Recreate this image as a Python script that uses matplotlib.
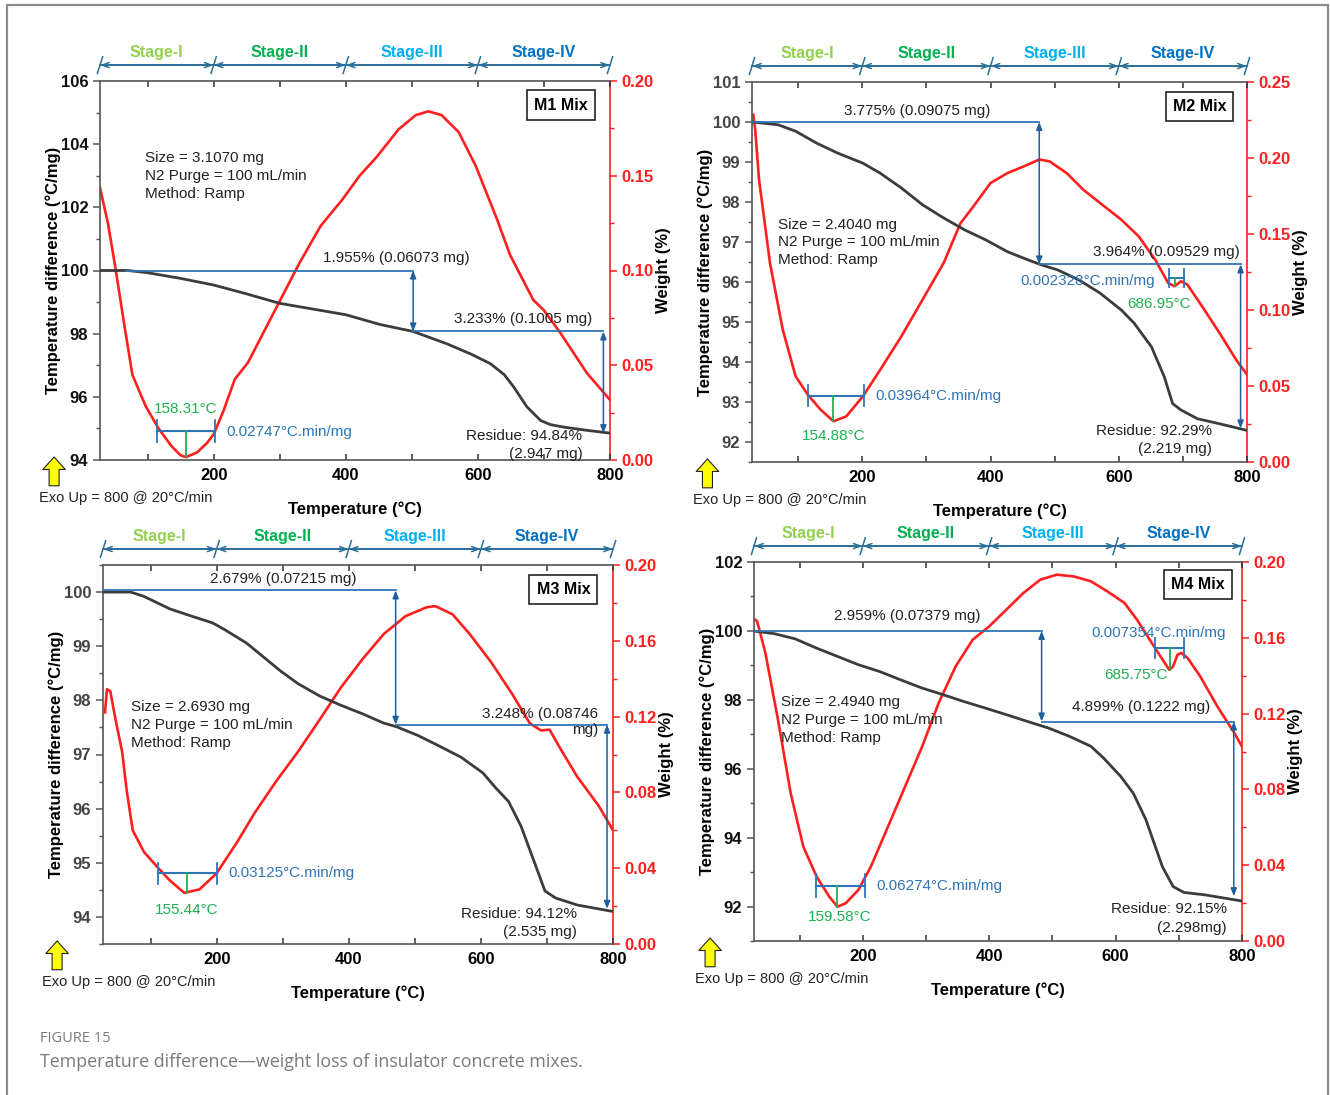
import matplotlib
matplotlib.use('Agg')
import matplotlib.pyplot as plt
from matplotlib.ticker import MultipleLocator, FormatStrFormatter
from matplotlib.transforms import blended_transform_factory
from matplotlib.patches import Rectangle

plt.rcParams['font.family'] = ['Liberation Sans', 'DejaVu Sans']

# ------------------------------------------------------------------ data
stage_bounds = [28, 200, 400, 600, 800]
stage_labels = ['Stage-I', 'Stage-II', 'Stage-III', 'Stage-IV']
stage_colors = ['#92d050', '#00b050', '#00b0f0', '#0070c0']
x_ticks = [200, 400, 600, 800]

# M1 Mix
m1_tg_t = [28, 70, 100, 150, 200, 250, 300, 350, 400, 452, 502, 553, 590, 619, 640, 654, 674, 695, 710, 730, 765, 800]
m1_tg_y = [100, 100, 99.93, 99.75, 99.54, 99.26, 98.96, 98.78, 98.6, 98.29, 98.07, 97.68, 97.35, 97.05, 96.7, 96.32,
           95.69, 95.25, 95.12, 95.04, 94.94, 94.85]
m1_dta_t = [28, 40, 52, 64, 77, 97, 116, 136, 150, 158, 175, 190, 200, 215, 232, 252, 278, 304, 330, 362, 395, 421,
            447, 480, 506, 525, 545, 571, 597, 629, 649, 684, 700, 725, 765, 800]
m1_dta_w = [0.1437, 0.125, 0.100, 0.073, 0.045, 0.0285, 0.017, 0.0074, 0.0025, 0.0015, 0.004, 0.009, 0.0135, 0.026,
            0.0426, 0.0514, 0.069, 0.0865, 0.104, 0.1235, 0.1375, 0.150, 0.160, 0.1745, 0.182, 0.184, 0.182, 0.173,
            0.155, 0.127, 0.108, 0.0844, 0.079, 0.067, 0.0459, 0.0317]
m1_step_t = [67, 502, 790]
m1_step_y = [100, 98.07, 94.85]
m1_texts = ['1.955% (0.06073 mg)', '3.233% (0.1005 mg)', 'Residue: 94.84%\n(2.947 mg)',
            'Size = 3.1070 mg\nN2 Purge = 100 mL/min\nMethod: Ramp']
m1_peaks = [dict(t0=115, t1=202, w=0.0153, tp=158.31, wmin=0.0015, cap=0.006,
                 label='158.31°C', rate='0.02747°C.min/mg')]

# M2 Mix
m2_tg_t = [29, 69, 96, 129, 162, 201, 228, 261, 294, 327, 360, 393, 426, 459, 479, 505, 538, 571, 604, 624, 651, 671,
           684, 697, 723, 756, 800]
m2_tg_y = [100.0, 99.93, 99.77, 99.47, 99.22, 98.97, 98.72, 98.35, 97.93, 97.6, 97.3, 97.05, 96.76, 96.55, 96.43,
           96.3, 96.05, 95.72, 95.3, 94.97, 94.38, 93.63, 92.96, 92.8, 92.58, 92.46, 92.29]
m2_dta_t = [30, 33, 39, 56, 76, 96, 115, 135, 155, 175, 201, 228, 261, 294, 327, 353, 373, 400, 426, 452, 476, 492,
            519, 545, 578, 604, 631, 657, 677, 687, 697, 707, 730, 757, 783, 800]
m2_dta_w = [0.2285, 0.2186, 0.1857, 0.131, 0.087, 0.0564, 0.0443, 0.0344, 0.0268, 0.030, 0.0432, 0.0607, 0.0827,
            0.1068, 0.131, 0.157, 0.168, 0.1835, 0.190, 0.1945, 0.199, 0.1978, 0.190, 0.179, 0.168, 0.1594, 0.1485,
            0.133, 0.1178, 0.1156, 0.1189, 0.1167, 0.1024, 0.085, 0.0673, 0.0575]
m2_step_t = [30, 476, 790]
m2_step_y = [100, 96.44, 92.34]
m2_texts = ['3.775% (0.09075 mg)', '3.964% (0.09529 mg)', 'Residue: 92.29%\n(2.219 mg)',
            'Size = 2.4040 mg\nN2 Purge = 100 mL/min\nMethod: Ramp']
m2_peaks = [dict(t0=115, t1=203, w=0.0436, tp=154.88, wmin=0.0268, cap=0.007,
                 label='154.88°C', rate='0.03964°C.min/mg'),
            dict(t0=679, t1=701, w=0.121, tp=686.95, wmin=0.1156, cap=0.006,
                 label='686.95°C', rate='0.002328°C.min/mg')]

# M3 Mix
m3_tg_t = [28, 70, 90, 129, 161, 194, 213, 245, 271, 297, 323, 356, 388, 421, 453, 473, 505, 538, 570, 603, 622, 642,
           661, 681, 697, 713, 746, 800]
m3_tg_y = [100, 100, 99.92, 99.69, 99.56, 99.43, 99.3, 99.06, 98.8, 98.54, 98.31, 98.08, 97.91, 97.75, 97.58, 97.51,
           97.35, 97.15, 96.95, 96.66, 96.39, 96.13, 95.67, 95.01, 94.48, 94.35, 94.22, 94.1]
m3_dta_t = [31, 34, 39, 47, 57, 64, 73, 90, 109, 129, 151, 174, 200, 232, 258, 291, 323, 356, 388, 421, 453, 486, 518,
            531, 557, 583, 616, 648, 674, 691, 704, 720, 746, 778, 800]
m3_dta_w = [0.1222, 0.1344, 0.1335, 0.1184, 0.1014, 0.0807, 0.060, 0.0486, 0.0411, 0.0336, 0.027, 0.0288, 0.0373,
            0.0543, 0.0694, 0.0863, 0.1014, 0.1184, 0.1353, 0.1504, 0.1636, 0.173, 0.1777, 0.1783, 0.174, 0.1636,
            0.1485, 0.1316, 0.1165, 0.1127, 0.1131, 0.1033, 0.0882, 0.0731, 0.06]
m3_step_t = [28, 471, 791]
m3_step_y = [100.03, 97.55, 94.15]
m3_texts = ['2.679% (0.07215 mg)', '3.248% (0.08746\nmg)', 'Residue: 94.12%\n(2.535 mg)',
            'Size = 2.6930 mg\nN2 Purge = 100 mL/min\nMethod: Ramp']
m3_peaks = [dict(t0=112, t1=201, w=0.0373, tp=155.44, wmin=0.027, cap=0.0055,
                 label='155.44°C', rate='0.03125°C.min/mg')]

# M4 Mix
m4_tg_t = [26, 60, 93, 127, 160, 193, 227, 260, 294, 327, 360, 394, 427, 461, 494, 527, 561, 581, 608, 628, 648, 661,
           674, 691, 708, 741, 800]
m4_tg_y = [100.0, 99.92, 99.77, 99.5, 99.26, 99.02, 98.82, 98.58, 98.34, 98.15, 97.95, 97.76, 97.57, 97.37, 97.18,
           96.94, 96.65, 96.31, 95.78, 95.29, 94.52, 93.84, 93.16, 92.58, 92.41, 92.34, 92.16]
m4_dta_t = [30, 33, 46, 66, 86, 106, 127, 147, 160, 173, 193, 213, 240, 267, 294, 320, 347, 374, 400, 427, 454, 481,
            507, 534, 561, 587, 614, 634, 654, 671, 685, 691, 698, 704, 714, 734, 761, 788, 800]
m4_dta_w = [0.1695, 0.1687, 0.152, 0.1167, 0.078, 0.0498, 0.034, 0.0234, 0.0181, 0.0199, 0.0269, 0.0393, 0.0604,
            0.0815, 0.1026, 0.1255, 0.1449, 0.159, 0.166, 0.1748, 0.1836, 0.1907, 0.1933, 0.1924, 0.1898, 0.1845,
            0.1784, 0.1695, 0.159, 0.1502, 0.1431, 0.1449, 0.1511, 0.152, 0.1493, 0.1396, 0.1238, 0.1097, 0.1026]
m4_step_t = [28, 483, 787]
m4_step_y = [100, 97.37, 92.3]
m4_texts = ['2.959% (0.07379 mg)', '4.899% (0.1222 mg)', 'Residue: 92.15%\n(2.298mg)',
            'Size = 2.4940 mg\nN2 Purge = 100 mL/min\nMethod: Ramp']
m4_peaks = [dict(t0=126, t1=203, w=0.0292, tp=159.58, wmin=0.0181, cap=0.006,
                 label='159.58°C', rate='0.06274°C.min/mg'),
            dict(t0=663, t1=709, w=0.1546, tp=685.75, wmin=0.1431, cap=0.0055,
                 label='685.75°C', rate='0.007354°C.min/mg')]

# ------------------------------------------------------------------ style
RED = '#ff1f1f'
TGC = '#3c3c3c'
BLUE = '#2e75b6'
DBLUE = '#1f5f9c'
GREEN = '#1fb050'
STAGE_LINE = '#2a6f9a'
FS = 11

W, H = 1330, 1095
fig = plt.figure(figsize=(W / 100, H / 100), dpi=100)

# outer frame
fig.patches.append(Rectangle((7 / W, -0.02), (1328 - 7) / W, 1.0 - 5 / H + 0.02, transform=fig.transFigure,
                             fill=False, ec='#8c8c8c', lw=1.6))


def px_rect(l, r, t, b):
    return [l / W, 1 - b / H, (r - l) / W, (b - t) / H]


panels = [
    dict(name='M1 Mix', rect=px_rect(100, 610, 81, 460), tg=(m1_tg_t, m1_tg_y), dta=(m1_dta_t, m1_dta_w),
         ylim=(94, 106), ymaj=2, ymin=1, wlim=(0, 0.20), wmaj=0.05, wmin=0.025, lcol='#111111',
         step=(m1_step_t, m1_step_y), texts=m1_texts, peaks=m1_peaks,
         tpos=[(476, 100.38, 'center'), (669, 98.48, 'center'), (758, 94.48), (96, 103.0)],
         box=(726, 105.24),
         plab=[((157, 0.0269), (220, 0.0148))]),
    dict(name='M2 Mix', rect=px_rect(752, 1247, 82, 462), tg=(m2_tg_t, m2_tg_y), dta=(m2_dta_t, m2_dta_w),
         ylim=(91.5, 101), ymaj=1, ymin=0.5, wlim=(0, 0.25), wmaj=0.05, wmin=0.025, lcol='#444444',
         step=(m2_step_t, m2_step_y), texts=m2_texts, peaks=m2_peaks,
         tpos=[(285, 100.27, 'center'), (675, 96.76, 'center'), (745, 92.05), (69, 96.99)],
         box=(726, 100.39),
         plab=[((155, 0.0169), (221, 0.0432)), ((663, None, 95.45), (446, None, 96.03))]),
    dict(name='M3 Mix', rect=px_rect(103, 613, 565, 944), tg=(m3_tg_t, m3_tg_y), dta=(m3_dta_t, m3_dta_w),
         ylim=(93.5, 100.5), ymaj=1, ymin=0.5, wlim=(0, 0.20), wmaj=0.04, wmin=0.02, lcol='#444444',
         step=(m3_step_t, m3_step_y), texts=m3_texts, peaks=m3_peaks,
         tpos=[(301, 100.25, 'center'), (777, 97.6, 'right'), (746, 93.89), (70, 97.55)],
         box=(725, 100.05),
         plab=[((155, 0.0179), (218, 0.0373))]),
    dict(name='M4 Mix', rect=px_rect(754, 1242, 562, 941), tg=(m4_tg_t, m4_tg_y), dta=(m4_dta_t, m4_dta_w),
         ylim=(91, 102), ymaj=2, ymin=1, wlim=(0, 0.20), wmaj=0.04, wmin=0.02, lcol='#111111',
         step=(m4_step_t, m4_step_y), texts=m4_texts, peaks=m4_peaks,
         tpos=[(270, 100.42, 'center'), (641, 97.78, 'center'), (776, 91.65), (70, 97.42)],
         box=(730, 101.34),
         plab=[((163, 0.0129), (222, 0.0292)), ((633, 0.1405), (561, 0.1625))]),
]

for p in panels:
    ax = fig.add_axes(p['rect'])
    ax2 = ax.twinx()
    ax.set_zorder(ax2.get_zorder() + 1)
    ax.patch.set_visible(False)

    ax.set_xlim(28, 800)
    ax.set_ylim(*p['ylim'])
    ax2.set_ylim(*p['wlim'])

    # curves
    ax2.plot(p['dta'][0], p['dta'][1], color=RED, lw=1.9, zorder=2)
    ax.plot(p['tg'][0], p['tg'][1], color=TGC, lw=2.0, zorder=3)

    # ticks / spines
    ax.set_xticks(x_ticks)
    ax.xaxis.set_minor_locator(MultipleLocator(100))
    ax.yaxis.set_major_locator(MultipleLocator(p['ymaj']))
    ax.yaxis.set_minor_locator(MultipleLocator(p['ymin']))
    ax2.yaxis.set_major_locator(MultipleLocator(p['wmaj']))
    ax2.yaxis.set_minor_locator(MultipleLocator(p['wmin']))
    ax2.yaxis.set_major_formatter(FormatStrFormatter('%.2f'))
    ax.tick_params(axis='x', which='both', direction='in', top=True, length=4, width=1.1, pad=6,
                   labelsize=12, color='#333333')
    ax.tick_params(axis='y', which='major', direction='out', length=5, width=1.1, labelsize=12,
                   labelcolor=p['lcol'], color='#555555')
    ax.tick_params(axis='y', which='minor', direction='out', length=3, width=1.0, color='#555555')
    ax2.tick_params(axis='y', which='major', direction='out', length=5, width=1.1, labelsize=12,
                    colors=RED)
    ax2.tick_params(axis='y', which='minor', direction='out', length=3, width=1.0, colors=RED)
    for lab in ax.get_xticklabels() + ax.get_yticklabels() + ax2.get_yticklabels():
        lab.set_fontweight('bold')
    for s in ['left', 'bottom', 'top']:
        ax.spines[s].set_color('#555555')
        ax.spines[s].set_linewidth(1.2)
    for s in ['left', 'bottom', 'top']:
        ax2.spines[s].set_visible(False)
    ax2.spines['right'].set_color(RED)
    ax2.spines['right'].set_linewidth(1.2)
    ax.spines['right'].set_visible(False)

    ax.set_xlabel('Temperature (°C)', fontsize=12, fontweight='bold', labelpad=13)
    ax.set_ylabel('Temperature difference (°C/mg)', fontsize=12, fontweight='bold', labelpad=0)
    ax2.set_ylabel('Weight (%)', fontsize=12, fontweight='bold', labelpad=1.5)

    # stage bar
    tr = blended_transform_factory(ax.transData, ax.transAxes)
    ybar = 1.042
    ax.plot([stage_bounds[0], stage_bounds[-1]], [ybar, ybar], transform=tr, clip_on=False,
            color=STAGE_LINE, lw=1.3)
    for i in range(len(stage_bounds) - 1):
        ax.annotate('', xy=(stage_bounds[i + 1], ybar), xytext=(stage_bounds[i], ybar), xycoords=tr,
                    textcoords=tr, annotation_clip=False,
                    arrowprops=dict(arrowstyle='<->,head_length=0.5,head_width=0.18', color=STAGE_LINE,
                                    lw=1.1, shrinkA=0, shrinkB=0))
        ax.text((stage_bounds[i] + stage_bounds[i + 1]) / 2, 1.074, stage_labels[i], transform=tr,
                ha='center', va='center', fontsize=11.5, fontweight='bold', color=stage_colors[i])
    for b in stage_bounds:
        ax.plot([b - 4, b + 4], [ybar - 0.022, ybar + 0.022], transform=tr, clip_on=False,
                color=STAGE_LINE, lw=1.1)

    # weight-loss steps
    st, sy = p['step']
    ax.plot([st[0], st[1]], [sy[0], sy[0]], color=BLUE, lw=1.3, zorder=4)
    ax.plot([st[1], st[2]], [sy[1], sy[1]], color=BLUE, lw=1.3, zorder=4)
    for (x, y0, y1) in [(st[1], sy[0], sy[1]), (st[2], sy[1], sy[2])]:
        ax.annotate('', xy=(x, y1), xytext=(x, y0),
                    arrowprops=dict(arrowstyle='<|-|>,head_length=0.45,head_width=0.18', color=DBLUE,
                                    lw=1.1, shrinkA=0, shrinkB=0), zorder=4)

    t = p['texts']
    tp = p['tpos']
    ax.text(tp[0][0], tp[0][1], t[0], ha=tp[0][2], va='center', fontsize=FS, color='#222222', zorder=5)
    ax.text(tp[1][0], tp[1][1], t[1], ha=tp[1][2], va='center', fontsize=FS, color='#222222',
            multialignment='right', zorder=5)
    ax.text(tp[2][0], tp[2][1], t[2], ha='right', va='center', fontsize=FS, color='#222222',
            multialignment='right', linespacing=1.4, zorder=5)
    ax.text(tp[3][0], tp[3][1], t[3], ha='left', va='center', fontsize=FS, color='#222222',
            linespacing=1.35, zorder=5)

    # peaks
    for pk, lab in zip(p['peaks'], p['plab']):
        ax2.plot([pk['t0'], pk['t1']], [pk['w'], pk['w']], color=BLUE, lw=1.5)
        for tt in (pk['t0'], pk['t1']):
            ax2.plot([tt, tt], [pk['w'] - pk['cap'], pk['w'] + pk['cap']], color=BLUE, lw=1.3)
        ax2.plot([pk['tp'], pk['tp']], [pk['wmin'], pk['w']], color=GREEN, lw=1.3)
        g, b = lab
        if len(g) == 3:
            ax.text(g[0], g[2], pk['label'], ha='center', va='center', fontsize=FS, color=GREEN, zorder=5)
        else:
            ax2.text(g[0], g[1], pk['label'], ha='center', va='center', fontsize=FS, color=GREEN)
        if len(b) == 3:
            ax.text(b[0], b[2], pk['rate'], ha='left', va='center', fontsize=FS, color=BLUE, zorder=5)
        else:
            ax2.text(b[0], b[1], pk['rate'], ha='left', va='center', fontsize=FS, color=BLUE)

    # name box
    ax.text(p['box'][0], p['box'][1], p['name'], ha='center', va='center', fontsize=11.5, fontweight='bold',
            bbox=dict(boxstyle='square,pad=0.45', fc='white', ec='#222222', lw=1.2), zorder=6)

    # exo-up arrow + text
    ax.annotate('', xy=(-0.09, 0.008), xytext=(-0.09, -0.068), xycoords='axes fraction',
                textcoords='axes fraction', annotation_clip=False,
                arrowprops=dict(arrowstyle='simple,head_length=0.5,head_width=0.9,tail_width=0.4',
                                fc='#ffff00', ec='#222222', lw=0.8, mutation_scale=18, shrinkA=0, shrinkB=0))
    ax.text(-0.12, -0.10, 'Exo Up = 800 @ 20°C/min', transform=ax.transAxes, ha='left', va='center',
            fontsize=10.5, color='#222222')

# caption
fig.text(40 / W, 1 - 1038 / H, 'FIGURE 15', fontsize=10.5, color='#7a7a7a', family=['Open Sans', 'DejaVu Sans'],
         va='center', ha='left')
fig.text(40 / W, 1 - 1062 / H, 'Temperature difference\u2014weight loss of insulator concrete mixes.',
         fontsize=12.9, color='#7a7a7a', family=['Open Sans', 'DejaVu Sans'], va='center', ha='left')

fig.savefig('out.png', dpi=100, facecolor='white')
